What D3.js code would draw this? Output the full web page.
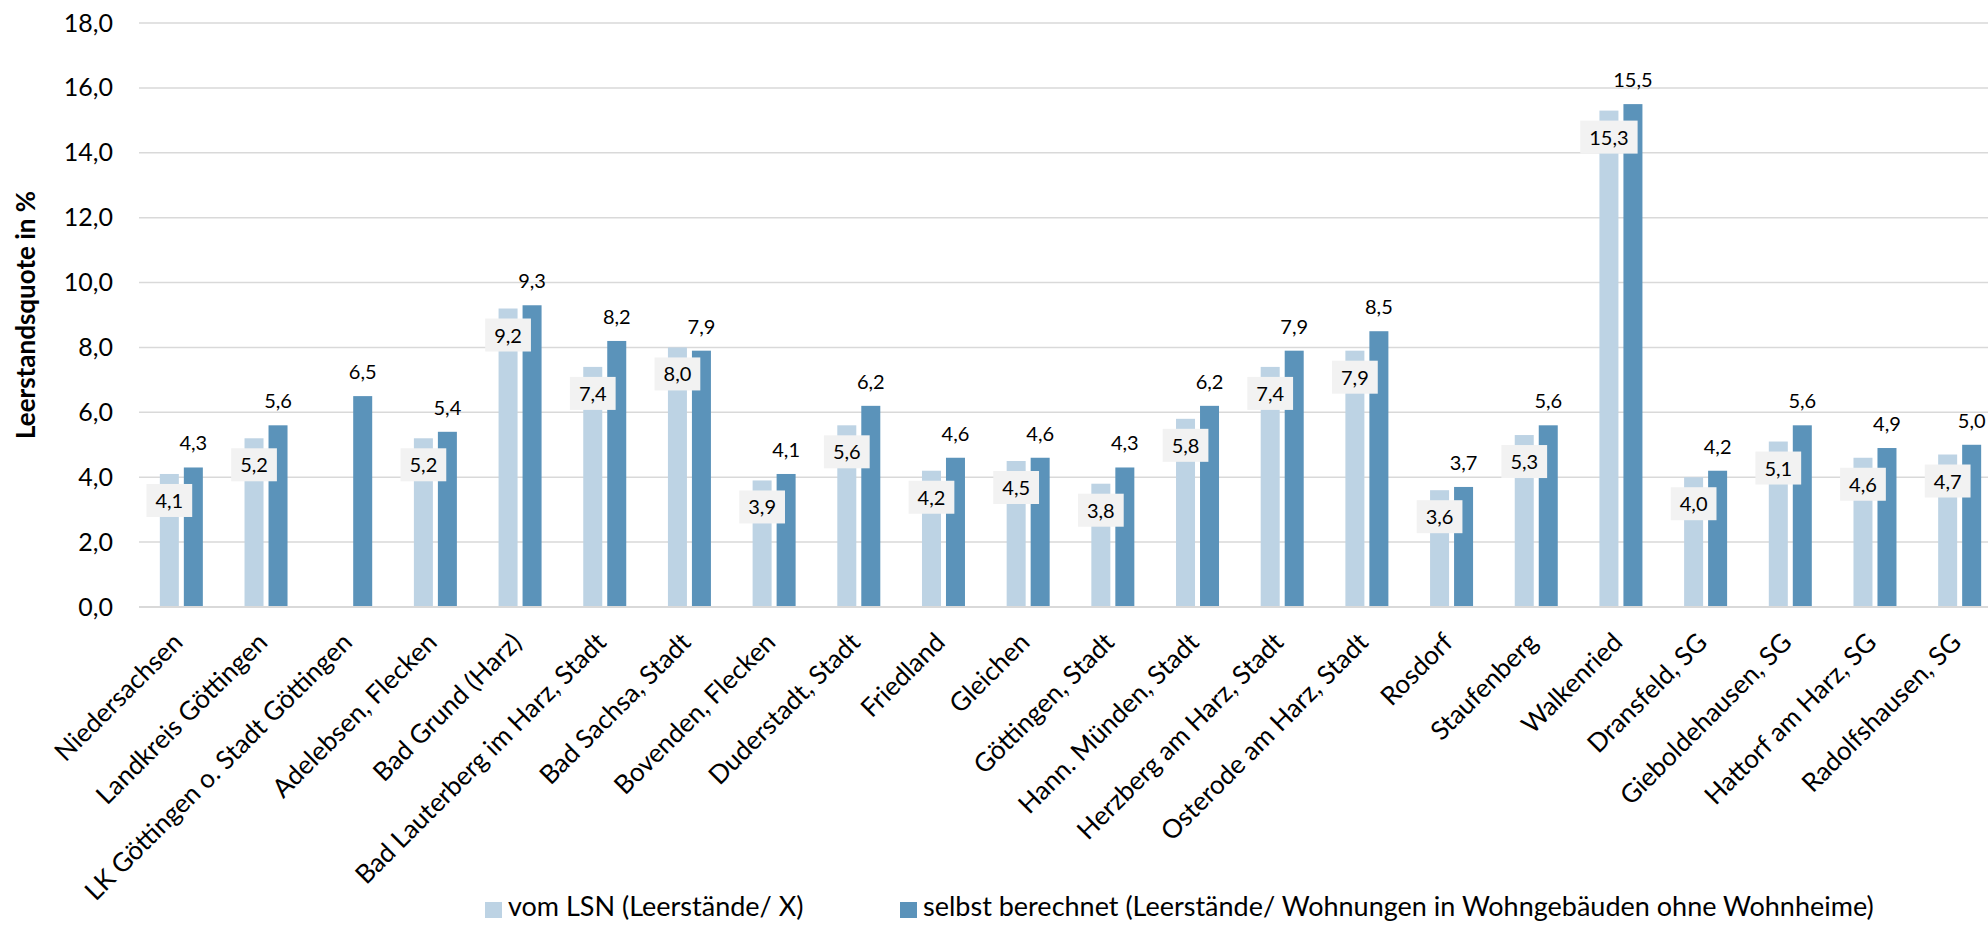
<!DOCTYPE html>
<html lang="de">
<head>
<meta charset="utf-8">
<title>Leerstandsquote</title>
<style>
  body { margin: 0; background: #fff; }
  svg text { font-family: Lato, "Open Sans", sans-serif; fill: #000; }
</style>
</head>
<body>
<svg width="1988" height="925"></svg>
<script src="https://cdn.jsdelivr.net/npm/d3@7"></script>
<script>
// data
var categories = ["Niedersachsen", "Landkreis Göttingen", "LK Göttingen o. Stadt Göttingen",
  "Adelebsen, Flecken", "Bad Grund (Harz)", "Bad Lauterberg im Harz, Stadt", "Bad Sachsa, Stadt",
  "Bovenden, Flecken", "Duderstadt, Stadt", "Friedland", "Gleichen", "Göttingen, Stadt",
  "Hann. Münden, Stadt", "Herzberg am Harz, Stadt", "Osterode am Harz, Stadt", "Rosdorf",
  "Staufenberg", "Walkenried", "Dransfeld, SG", "Gieboldehausen, SG", "Hattorf am Harz, SG",
  "Radolfshausen, SG"];
var vomLSN = [4.1, 5.2, null, 5.2, 9.2, 7.4, 8.0, 3.9, 5.6, 4.2, 4.5, 3.8, 5.8, 7.4, 7.9, 3.6,
  5.3, 15.3, 4.0, 5.1, 4.6, 4.7];
var selbst = [4.3, 5.6, 6.5, 5.4, 9.3, 8.2, 7.9, 4.1, 6.2, 4.6, 4.6, 4.3, 6.2, 7.9, 8.5, 3.7,
  5.6, 15.5, 4.2, 5.6, 4.9, 5.0];
var yTicks = [0, 2, 4, 6, 8, 10, 12, 14, 16, 18];
var seriesNames = ["vom LSN (Leerstände/ X)",
  "selbst berechnet (Leerstände/ Wohnungen in Wohngebäuden ohne Wohnheime)"];
var colors = ["#bdd3e4", "#5b93ba"];

var svg = d3.select("svg");
var margin = {left: 139, top: 23, right: -14, bottom: 318};
var width = 1988 - margin.left - margin.right,
    height = 925 - margin.top - margin.bottom;

var de = d3.formatLocale({decimal: ",", thousands: ".", grouping: [3], currency: ["", " €"]});
var fmt = de.format(".1f");

var x = d3.scaleBand().domain(categories).range([0, width]);
var y = d3.scaleLinear().domain([0, 18]).range([height, 0]);
var barW = 19, barGap = 5;

var g = svg.append("g").attr("transform", "translate(" + margin.left + "," + margin.top + ")");

// gridlines
g.selectAll(".grid").data(yTicks).enter().append("line")
  .attr("x1", 0).attr("x2", width)
  .attr("y1", function(d) { return y(d); }).attr("y2", function(d) { return y(d); })
  .attr("stroke", "#d9d9d9").attr("stroke-width", 1.5);

// y axis labels
var yAxis = g.append("g")
  .call(d3.axisLeft(y).tickValues(yTicks).tickFormat(fmt).tickSize(0).tickPadding(26));
yAxis.select(".domain").remove();
yAxis.selectAll("text").attr("font-size", 25).attr("font-family", "Lato").attr("fill", "#000");

// bars
var rows = categories.map(function(c, i) { return {cat: c, a: vomLSN[i], b: selbst[i]}; });
var grp = g.selectAll(".cat").data(rows).enter().append("g")
  .attr("transform", function(d) { return "translate(" + (x(d.cat) + x.bandwidth() / 2) + ",0)"; });

grp.filter(function(d) { return d.a != null; }).append("rect")
  .attr("x", -barW - barGap / 2).attr("width", barW)
  .attr("y", function(d) { return y(d.a); })
  .attr("height", function(d) { return height - y(d.a); })
  .attr("fill", colors[0]);

grp.append("rect")
  .attr("x", barGap / 2).attr("width", barW)
  .attr("y", function(d) { return y(d.b); })
  .attr("height", function(d) { return height - y(d.b); })
  .attr("fill", colors[1]);

// labels of dark bars, above
grp.append("text")
  .attr("x", barGap / 2 + barW / 2)
  .attr("y", function(d) { return y(d.b) - 17; })
  .attr("text-anchor", "middle").attr("font-size", 20)
  .text(function(d) { return fmt(d.b); });

// labels of light bars, boxed, inside end
var lab = grp.filter(function(d) { return d.a != null; }).append("g")
  .attr("transform", function(d) { return "translate(" + (-barGap / 2 - barW / 2) + "," + (y(d.a) + 10) + ")"; });
lab.append("text")
  .attr("y", 24).attr("text-anchor", "middle").attr("font-size", 20)
  .text(function(d) { return fmt(d.a); });
lab.each(function() {
  var t = d3.select(this).select("text"), w = t.node().getComputedTextLength();
  d3.select(this).insert("rect", "text")
    .attr("x", -w / 2 - 9).attr("width", w + 18)
    .attr("y", 0).attr("height", 33).attr("fill", "#f2f2f2");
});

// baseline
g.append("line").attr("x1", 0).attr("x2", width).attr("y1", height).attr("y2", height)
  .attr("stroke", "#d9d9d9").attr("stroke-width", 2);

// category labels
g.selectAll(".xl").data(categories).enter().append("text")
  .attr("transform", function(d) {
    return "translate(" + (x(d) + x.bandwidth() / 2 + 3) + "," + (height + 37) + ") rotate(-45)";
  })
  .attr("text-anchor", "end").attr("font-size", 26)
  .text(function(d) { return d; });

// y axis title
svg.append("text")
  .attr("transform", "translate(35," + (margin.top + height / 2) + ") rotate(-90)")
  .attr("text-anchor", "middle").attr("font-size", 26).attr("font-weight", "bold")
  .text("Leerstandsquote in %");

// legend
var legX = [485, 900];
var leg = svg.selectAll(".leg").data(seriesNames).enter().append("g")
  .attr("transform", function(d, i) { return "translate(" + legX[i] + ",0)"; });
leg.append("rect").attr("x", 0).attr("y", 902).attr("width", 17).attr("height", 16)
  .attr("fill", function(d, i) { return colors[i]; });
leg.append("text").attr("x", 23).attr("y", 916).attr("font-size", 27)
  .text(function(d) { return d; });
</script>
</body>
</html>
